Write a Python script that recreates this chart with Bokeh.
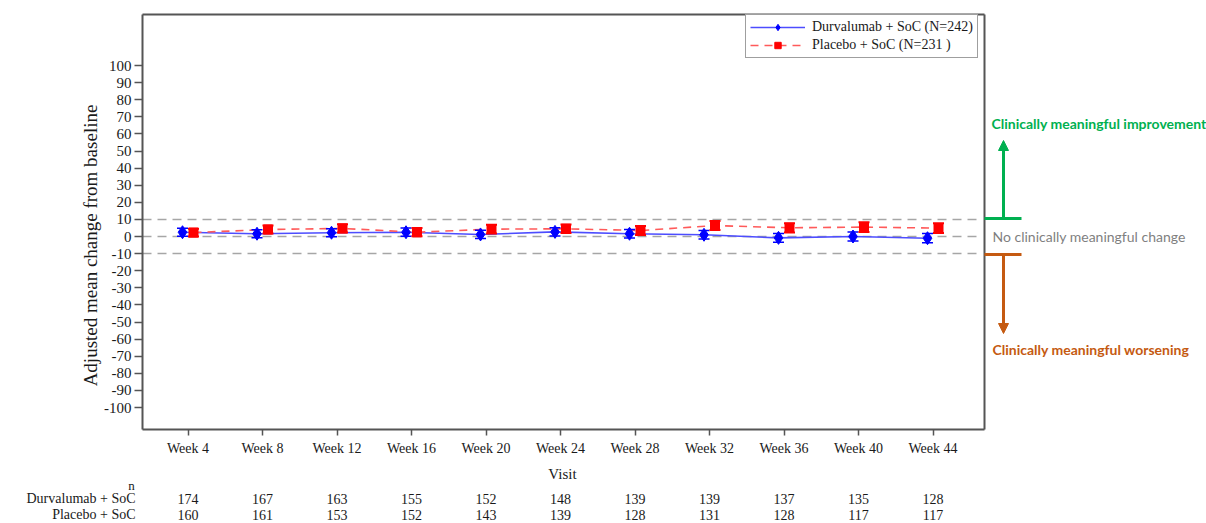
import math
from bokeh.plotting import figure
from bokeh.models import (Range1d, LinearAxis, FixedTicker, Label, Legend,
                          LegendItem, Arrow, NormalHead)
from bokeh.embed import file_html
from bokeh.resources import INLINE

# ---------------- data ----------------
weeks = [4, 8, 12, 16, 20, 24, 28, 32, 36, 40, 44]
visit_labels = ["Week 4", "Week 8", "Week 12", "Week 16", "Week 20", "Week 24",
                "Week 28", "Week 32", "Week 36", "Week 40", "Week 44"]
durva_mean = [2.5, 1.6, 2.2, 2.5, 1.2, 2.7, 1.6, 1.0, -0.8, 0.0, -1.0]
durva_err = [2.3, 2.3, 2.3, 2.4, 2.4, 2.4, 2.5, 2.5, 2.6, 2.6, 2.7]
placebo_mean = [2.3, 4.1, 4.7, 2.5, 4.3, 4.5, 3.5, 6.4, 5.1, 5.5, 4.9]
placebo_err = [2.3, 2.4, 2.4, 2.4, 2.5, 2.5, 2.6, 2.6, 2.7, 2.8, 2.8]
durva_n = [174, 167, 163, 155, 152, 148, 139, 139, 137, 135, 128]
placebo_n = [160, 161, 153, 152, 143, 139, 128, 131, 128, 117, 117]
y_ticks = list(range(-100, 101, 10))
ref_lines = [10, 0, -10]
series_names = ["Durvalumab + SoC (N=242)", "Placebo + SoC (N=231 )"]
row_names = ["Durvalumab + SoC", "Placebo + SoC"]

# ---------------- layout (canvas pixels -> data) ----------------
W, H = 1206, 523
PX_PER_WEEK = 18.625
PX_PER_UNIT = 1.71


def px_x(cx):
    return 4 + (cx - 187.5) / PX_PER_WEEK


def px_y(cy):
    return (236 - cy) / PX_PER_UNIT


BOX_LEFT = px_x(142)
BOX_RIGHT = px_x(984)
BOX_TOP = px_y(14)
BOX_BOTTOM = px_y(429)
DX = 5.5 / PX_PER_WEEK
CAP = 5.5 / PX_PER_WEEK

SERIF = "Liberation Serif"
FRAME_COLOR = "#555555"
TXT = "#1a1a1a"
BLUE = "#0000ff"
BLUE_LINE = "#4d4dff"
RED = "#ff0000"
RED_LINE = "#ff5a5a"
GREEN = "#00b050"
ORANGE = "#c55a11"
GREY_TXT = "#7f7f7f"

p = figure(width=W, height=H, output_backend="svg", toolbar_location=None,
           x_range=Range1d(px_x(0), px_x(W)), y_range=Range1d(px_y(H), px_y(0)),
           x_axis_type=None, y_axis_type=None, min_border=0)
p.outline_line_color = None
p.background_fill_color = "white"

# axes, fixed on the box edges
yaxis = LinearAxis(ticker=FixedTicker(ticks=y_ticks), bounds=(BOX_BOTTOM, BOX_TOP),
                   fixed_location=BOX_LEFT,
                   major_label_overrides={t: str(t) for t in y_ticks})
yaxis.axis_line_color = FRAME_COLOR
yaxis.axis_line_width = 2
yaxis.major_tick_line_color = FRAME_COLOR
yaxis.major_tick_line_width = 1.5
yaxis.major_tick_out = 8
yaxis.major_tick_in = 0
yaxis.minor_tick_line_color = None
yaxis.major_label_standoff = 3
yaxis.major_label_text_font = SERIF
yaxis.major_label_text_font_size = "15px"
yaxis.major_label_text_color = TXT
p.add_layout(yaxis, "left")

xaxis = LinearAxis(ticker=FixedTicker(ticks=weeks),
                   major_label_overrides={w: lab for w, lab in zip(weeks, visit_labels)},
                   bounds=(BOX_LEFT, BOX_RIGHT), fixed_location=BOX_BOTTOM)
xaxis.axis_line_color = FRAME_COLOR
xaxis.axis_line_width = 2
xaxis.major_tick_line_color = FRAME_COLOR
xaxis.major_tick_line_width = 1.5
xaxis.major_tick_out = 6
xaxis.major_tick_in = 0
xaxis.minor_tick_line_color = None
xaxis.major_label_standoff = 5
xaxis.major_label_text_font = SERIF
xaxis.major_label_text_font_size = "14px"
xaxis.major_label_text_color = TXT
p.add_layout(xaxis, "below")

# box top and right
p.segment(x0=[BOX_LEFT], y0=[BOX_TOP], x1=[BOX_RIGHT], y1=[BOX_TOP], line_color=FRAME_COLOR, line_width=2)
p.segment(x0=[BOX_RIGHT], y0=[BOX_BOTTOM], x1=[BOX_RIGHT], y1=[BOX_TOP], line_color=FRAME_COLOR, line_width=2)

# reference lines
for r in ref_lines:
    p.segment(x0=[BOX_LEFT], y0=[r], x1=[BOX_RIGHT - 0.4], y1=[r], line_color="#a6a6a6",
              line_width=1.5, line_dash="9 6")

dx = [w - DX for w in weeks]
px_ = [w + DX for w in weeks]

# series lines
dline = p.line(dx, durva_mean, line_color=BLUE_LINE, line_width=1.6)
pline = p.line(px_, placebo_mean, line_color=RED_LINE, line_width=1.6, line_dash="8 6")

# error bars
d_lo = [m - e for m, e in zip(durva_mean, durva_err)]
d_hi = [m + e for m, e in zip(durva_mean, durva_err)]
p_lo = [m - e for m, e in zip(placebo_mean, placebo_err)]
p_hi = [m + e for m, e in zip(placebo_mean, placebo_err)]
p.segment(x0=dx, y0=d_lo, x1=dx, y1=d_hi, line_color=BLUE, line_width=1.5)
p.segment(x0=[x - CAP for x in dx], y0=d_lo, x1=[x + CAP for x in dx], y1=d_lo, line_color=BLUE, line_width=1.5)
p.segment(x0=[x - CAP for x in dx], y0=d_hi, x1=[x + CAP for x in dx], y1=d_hi, line_color=BLUE, line_width=1.5)
p.segment(x0=px_, y0=p_lo, x1=px_, y1=p_hi, line_color=RED, line_width=1.5)
p.segment(x0=[x - CAP for x in px_], y0=p_lo, x1=[x + CAP for x in px_], y1=p_lo, line_color=RED, line_width=2)
p.segment(x0=[x - CAP for x in px_], y0=p_hi, x1=[x + CAP for x in px_], y1=p_hi, line_color=RED, line_width=2)

# markers
dmark = p.scatter(dx, durva_mean, marker="diamond", size=13, fill_color=BLUE, line_color=BLUE)
pmark = p.scatter(px_, placebo_mean, marker="square", size=9, fill_color=RED, line_color=RED)

legend = Legend(items=[LegendItem(label=series_names[0], renderers=[dline, dmark]),
                       LegendItem(label=series_names[1], renderers=[pline, pmark])],
                location=(745, H - 58))
legend.label_text_font = SERIF
legend.label_text_font_size = "14px"
legend.label_text_color = TXT
legend.glyph_width = 55
legend.glyph_height = 16
legend.label_height = 16
legend.label_standoff = 7
legend.spacing = 2
legend.padding = 4
legend.margin = 0
legend.border_line_color = "#404040"
legend.border_line_width = 1
legend.background_fill_alpha = 1
p.add_layout(legend)

# right-side annotations
p.segment(x0=[BOX_RIGHT], y0=[px_y(218)], x1=[px_x(1021)], y1=[px_y(218)], line_color=GREEN, line_width=3)
p.add_layout(Arrow(end=NormalHead(size=10, fill_color=GREEN, line_color=GREEN),
                   x_start=px_x(1003), y_start=px_y(218), x_end=px_x(1003), y_end=px_y(140),
                   line_color=GREEN, line_width=3))
p.segment(x0=[BOX_RIGHT], y0=[px_y(254)], x1=[px_x(1021)], y1=[px_y(254)], line_color=ORANGE, line_width=3)
p.add_layout(Arrow(end=NormalHead(size=10, fill_color=ORANGE, line_color=ORANGE),
                   x_start=px_x(1003), y_start=px_y(254), x_end=px_x(1003), y_end=px_y(333),
                   line_color=ORANGE, line_width=3))


def add_label(x, y, text, font, size, color, align="left", bold=False, angle=0.0):
    p.add_layout(Label(x=x, y=y, text=text, text_font=font, text_font_size=size,
                       text_color=color, text_align=align, text_baseline="middle",
                       text_font_style="bold" if bold else "normal", angle=angle))


add_label(px_x(991), px_y(123), "Clinically meaningful improvement", "Lato", "14px", GREEN, bold=True)
add_label(px_x(992), px_y(236), "No clinically meaningful change", "Lato", "14px", GREY_TXT)
add_label(px_x(992), px_y(349), "Clinically meaningful worsening", "Lato", "14px", ORANGE, bold=True)

# axis titles
add_label(px_x(90), px_y(245), "Adjusted mean change from baseline", SERIF, "19px", TXT,
          align="center", angle=math.pi / 2)
add_label(px_x(562), px_y(473), "Visit", SERIF, "15px", TXT, align="center")

# n table
add_label(px_x(131), px_y(485), "n", SERIF, "13px", TXT, align="center")
add_label(px_x(135), px_y(498), row_names[0], SERIF, "14px", TXT, align="right")
add_label(px_x(135), px_y(514), row_names[1], SERIF, "14px", TXT, align="right")
for w, n1, n2 in zip(weeks, durva_n, placebo_n):
    add_label(w, px_y(498), str(n1), SERIF, "14px", TXT, align="center")
    add_label(w, px_y(514), str(n2), SERIF, "14px", TXT, align="center")

open("out.html", "w").write(file_html(p, INLINE))
